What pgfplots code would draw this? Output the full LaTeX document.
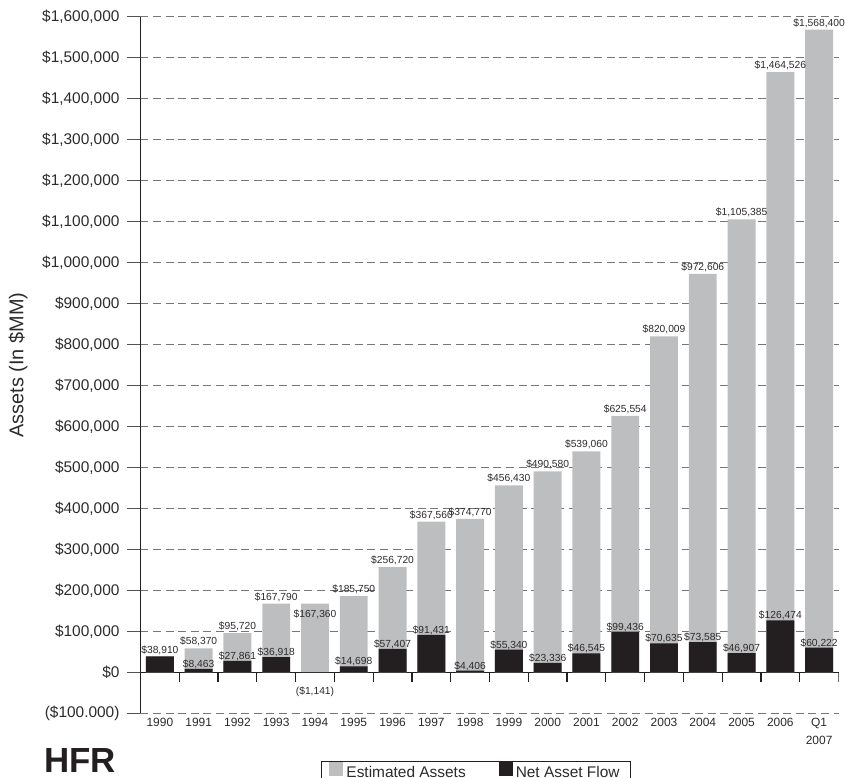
\documentclass[border=0pt]{standalone}
\usepackage{pgfplots}
\pgfplotsset{compat=1.18}
\usepackage{fontspec}
\setmainfont{Liberation Sans}

\definecolor{assetgray}{RGB}{188,190,192}
\definecolor{flowblack}{RGB}{35,31,32}
\definecolor{gridgray}{RGB}{118,118,118}
\definecolor{inkgray}{RGB}{45,42,43}

\begin{document}
\begin{tikzpicture}
\begin{axis}[
  at={(0,0)}, anchor=south west,
  scale only axis, width=698bp, height=696.6bp,
  xmin=-0.5, xmax=17.5, ymin=-100000, ymax=1600000,
  axis y line*=left, axis x line*=bottom,
  x axis line style={draw=none},
  y axis line style={draw=flowblack, line width=1.2bp},
  tick align=outside, major tick length=13.3bp,
  xtick={0,...,17},
  xticklabels={1990,1991,1992,1993,1994,1995,1996,1997,1998,1999,2000,2001,2002,2003,2004,2005,2006,{Q1\\2007}},
  xtick style={draw=none},
  xticklabel style={font=\fontsize{12}{18}\selectfont, align=center, text=inkgray, anchor=north, yshift=11.6bp},
  ytick={-100000,100000,200000,300000,400000,500000,600000,700000,800000,900000,1000000,1100000,1200000,1300000,1400000,1500000,1600000},
  yticklabels={(\$100.000),{\$100,000},{\$200,000},{\$300,000},{\$400,000},{\$500,000},{\$600,000},{\$700,000},{\$800,000},{\$900,000},{\$1,000,000},{\$1,100,000},{\$1,200,000},{\$1,300,000},{\$1,400,000},{\$1,500,000},{\$1,600,000}},
  yticklabel style={font=\fontsize{15.5}{18}\selectfont, text=inkgray, xshift=-4.2bp},
  ytick style={draw=gridgray!70!black, line width=1.3bp},
  ymajorgrids,
  grid style={draw=gridgray, line width=1.3bp, dash pattern=on 8bp off 4.6bp},
  extra y ticks={0}, extra y tick labels={\$0},
  extra y tick style={ymajorgrids=true,
    grid style={solid, draw=flowblack, line width=1.2bp},
    tick style={draw=flowblack, line width=1.2bp}},
  ybar, bar width=0.72,
  legend columns=2,
  legend style={at={(0.4807,-0.0680)}, anchor=north, draw=flowblack, line width=1bp,
    font=\fontsize{15.5}{18}\selectfont, text=inkgray,
    inner xsep=8bp, inner ysep=0.5bp,
    nodes={inner xsep=3bp, inner ysep=0bp},
    /tikz/every even column/.append style={column sep=30bp}},
  legend image code/.code={\fill[#1] (0bp,-3bp) rectangle (14bp,11bp);},
]
% estimated assets, with per-bar label offsets (bp)
\addplot[fill=assetgray, draw=none, bar shift=0pt,
  point meta=explicit symbolic,
  visualization depends on={value \thisrow{dy} \as \labdy},
  nodes near coords,
  every node near coord/.append style={anchor=base, yshift=\labdy bp,
    font=\fontsize{10.3}{12}\selectfont, text=inkgray}]
table[x=x, y=y, meta=lab] {
x  y        lab            dy
0  38910    {}             3.5
1  58370    \$58,370       3.5
2  95720    \$95,720       3.5
3  167790   \$167,790      3.5
4  167360   \$167,360      -13.5
5  185750   \$185,750      3.5
6  256720   \$256,720      3.5
7  367560   \$367,560      3.5
8  374770   \$374,770      3.5
9  456430   \$456,430      3.5
10 490580   \$490,580      3.5
11 539060   \$539,060      3.5
12 625554   \$625,554      3.5
13 820009   \$820,009      3.5
14 972606   \$972,606      3.5
15 1105385  \$1,105,385    3.5
16 1464526  \$1,464,526    3.5
17 1568400  \$1,568,400    3.5
};
\addlegendentry{Estimated Assets}
% net asset flow
\addplot[fill=flowblack, draw=none, bar shift=0pt,
  point meta=explicit symbolic,
  visualization depends on={value \thisrow{dy} \as \labdy},
  nodes near coords,
  every node near coord/.append style={anchor=base, yshift=\labdy bp,
    font=\fontsize{10.3}{12}\selectfont, text=inkgray}]
table[x=x, y=y, meta=lab] {
x  y        lab            dy
0  38910    \$38,910       2.5
1  8463     \$8,463        1.5
2  27861    \$27,861       1.5
3  36918    \$36,918       1.5
4  -1141    (\$1,141)      -21.5
5  14698    \$14,698       1.5
6  57407    \$57,407       1.5
7  91431    \$91,431       1.5
8  4406     \$4,406        1.5
9  55340    \$55,340       1.5
10 23336    \$23,336       1.5
11 46545    \$46,545       1.5
12 99436    \$99,436       1.5
13 70635    \$70,635       1.5
14 73585    \$73,585       1.5
15 46907    \$46,907       1.5
16 126474   \$126,474      1.5
17 60222    \$60,222       1.5
};
\addlegendentry{Net Asset Flow}
% short category ticks hanging from the zero line
\pgfplotsinvokeforeach{0.5,1.5,...,17.5}{
  \draw[flowblack, line width=1.2bp] (axis cs:#1,0) -- ([yshift=-10bp]axis cs:#1,0);
}
\end{axis}
\node[rotate=90, font=\fontsize{20}{24}\selectfont, text=inkgray] at (-122.5bp,348.3bp) {Assets (In \$MM)};
\node[font=\bfseries\fontsize{35}{40}\selectfont, text=flowblack] at (-60.5bp,-47.5bp) {HFR};
\pgfresetboundingbox
\path[use as bounding box] (-140.5bp,-64.7bp) rectangle (704.5bp,713.3bp);
\end{tikzpicture}
\end{document}
